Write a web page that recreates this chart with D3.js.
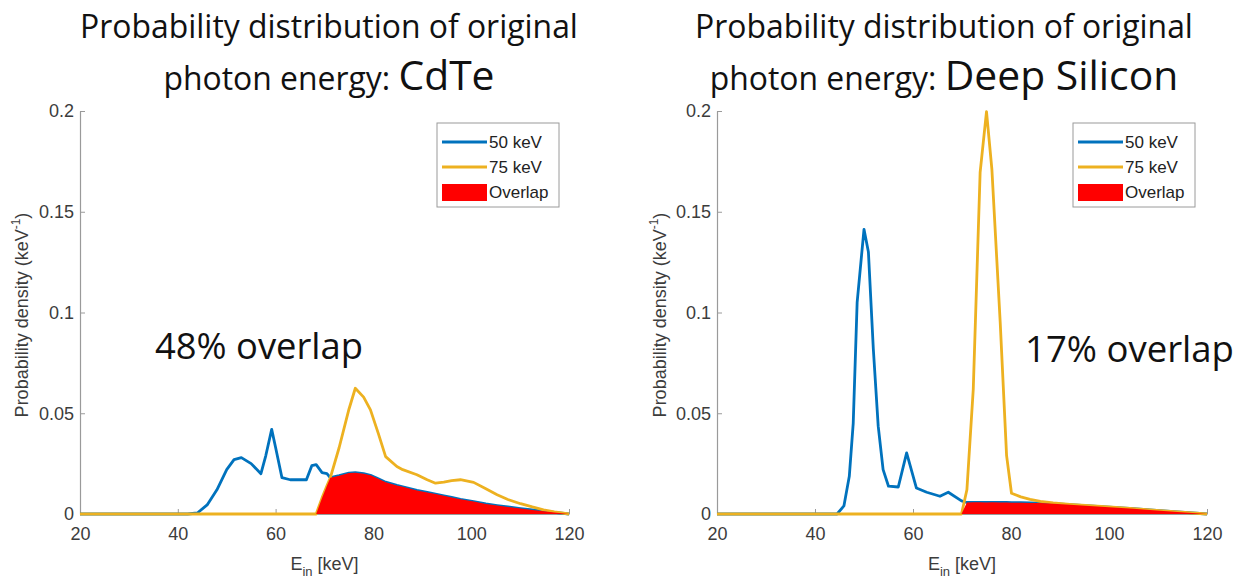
<!DOCTYPE html>
<html>
<head>
<meta charset="utf-8">
<script src="https://cdn.jsdelivr.net/npm/d3@7"></script>
<style>
body { margin: 0; background: #fff; }
svg { display: block; }
</style>
</head>
<body>
<div id="chart"></div>
<script>
// ---- data ----
const xTicks = [20, 40, 60, 80, 100, 120];
const yTicks = [0, 0.05, 0.1, 0.15, 0.2];
const legendLabels = ["50 keV", "75 keV", "Overlap"];

// CdTe panel, shared energy grid (keV)
const cdteEnergy = [20, 42, 44, 46, 48, 50, 51.5, 53, 55, 57, 58, 59.2, 60, 61.3, 63, 66.3, 67.4, 68.3, 69.5, 70.5,
    71.2, 73, 75, 76.3, 78, 79.4, 81, 82.5, 84.8, 86, 88.9, 91, 92.7, 94.4, 96, 97.8, 100.5, 103, 105.3, 107.5,
    110.1, 112.5, 114.8, 117, 120];
const cdte50 = [0, 0, 0.0005, 0.0045, 0.012, 0.022, 0.027, 0.028, 0.025, 0.020, 0.029, 0.042, 0.033, 0.018, 0.017, 0.017, 0.024, 0.0245, 0.0205, 0.020,
    0.018, 0.019, 0.0203, 0.0205, 0.020, 0.0192, 0.0175, 0.0158, 0.0142, 0.0135, 0.0117, 0.0107, 0.0099, 0.009, 0.0082, 0.0073, 0.0062, 0.005, 0.0042, 0.0035,
    0.0027, 0.002, 0.0014, 0.0008, 0];
const cdte75 = [0, 0, 0, 0, 0, 0, 0, 0, 0, 0, 0, 0, 0, 0, 0, 0, 0, 0, 0.008, 0.014,
    0.018, 0.033, 0.052, 0.0624, 0.058, 0.0517, 0.040, 0.0285, 0.0236, 0.022, 0.0195, 0.017, 0.0153, 0.0158, 0.0166, 0.017, 0.0157, 0.0125, 0.0096, 0.0072,
    0.0051, 0.0035, 0.0021, 0.001, 0];

// Deep Silicon panel
const siEnergy = [20, 44.5, 45.9, 47, 47.8, 48.6, 50, 50.9, 51.9, 52.9, 53.9, 55, 57, 58.7, 60.7, 62.8, 65.5, 67.2, 69.9, 71,
    72.3, 73.7, 75, 76.1, 77.8, 79.1, 80.1, 82, 83.9, 86, 88.6, 92, 96, 100, 105, 109, 114, 120];
const si50 = [0, 0, 0.004, 0.0187, 0.045, 0.105, 0.1413, 0.130, 0.082, 0.0436, 0.022, 0.0138, 0.0134, 0.0303, 0.0129, 0.0108, 0.0088, 0.0108, 0.0065, 0.0057,
    0.0058, 0.0058, 0.0057, 0.0058, 0.0057, 0.0057, 0.0056, 0.0056, 0.0055, 0.0054, 0.0051, 0.0046, 0.004, 0.0034, 0.0026, 0.0019, 0.0011, 0];
const si75 = [0, 0, 0, 0, 0, 0, 0, 0, 0, 0, 0, 0, 0, 0, 0, 0, 0, 0, 0, 0.012,
    0.062, 0.1695, 0.1997, 0.171, 0.095, 0.029, 0.0103, 0.0085, 0.0073, 0.0063, 0.0055, 0.0048, 0.0041, 0.0035, 0.0026, 0.0019, 0.001, 0];

const blue = "#0072BD", orange = "#EDB120", red = "#FF0000";
const axisGray = "#9a9a9a", tickText = "#3c3c3c";

let svg = d3.select("#chart").append("svg")
    .attr("width", 1236)
    .attr("height", 579);

// scale a text's font-size so it is the given width
function fitWidth(sel, width) {
    let fs = parseFloat(sel.attr("font-size"));
    let w = sel.node().getComputedTextLength();
    sel.attr("font-size", fs * width / w);
    return fs * width / w;
}

function drawPanel(p) {
    let x = d3.scaleLinear().domain([20, 120]).range([p.left, p.right]);
    let y = d3.scaleLinear().domain([0, 0.2]).range([514, 111]);
    let g = svg.append("g");

    //title line 1
    let t1 = g.append("text")
        .attr("x", p.titleX)
        .attr("y", 38)
        .attr("text-anchor", "middle")
        .attr("font-family", "Open Sans")
        .attr("font-size", 30)
        .attr("fill", "#111")
        .text("Probability distribution of original");
    let fs = fitWidth(t1, p.titleW);

    //title line 2
    let t2 = g.append("text")
        .attr("x", p.titleX)
        .attr("y", 90)
        .attr("text-anchor", "middle")
        .attr("font-family", "Open Sans")
        .attr("fill", "#111");
    t2.append("tspan").attr("font-size", fs).text("photon energy: ");
    t2.append("tspan").attr("font-size", fs * 1.28).text(p.material);

    // axes
    let xAxis = g.append("g")
        .attr("transform", "translate(0,514)")
        .call(d3.axisBottom(x).tickValues(xTicks).tickSizeInner(-5).tickSizeOuter(0).tickPadding(13));
    let yAxis = g.append("g")
        .attr("transform", "translate(" + p.left + ",0)")
        .call(d3.axisLeft(y).tickValues(yTicks).tickSizeInner(-5).tickSizeOuter(0).tickPadding(6)
            .tickFormat(d3.format("~g")));
    [xAxis, yAxis].forEach(function (a) {
        a.select(".domain").attr("stroke", axisGray).attr("stroke-width", 1.2);
        a.selectAll(".tick line").attr("stroke", axisGray);
        a.selectAll(".tick text")
            .attr("fill", tickText)
            .attr("font-family", "Liberation Sans, Arial, sans-serif")
            .attr("font-size", 18);
    });

    // axis labels
    let yl = g.append("text")
        .attr("transform", "translate(" + p.yLabelX + ",315) rotate(-90)")
        .attr("text-anchor", "middle")
        .attr("font-family", "Liberation Sans, Arial, sans-serif")
        .attr("font-size", 18)
        .attr("fill", tickText);
    yl.append("tspan").text("Probability density (keV");
    yl.append("tspan").attr("font-size", 12).attr("dy", -8).text("-1");
    yl.append("tspan").attr("dy", 8).text(")");

    let xl = g.append("text")
        .attr("x", (p.left + p.right) / 2)
        .attr("y", 570)
        .attr("text-anchor", "middle")
        .attr("font-family", "Liberation Sans, Arial, sans-serif")
        .attr("font-size", 18)
        .attr("fill", tickText);
    xl.append("tspan").text("E");
    xl.append("tspan").attr("font-size", 13).attr("dy", 6).text("in");
    xl.append("tspan").attr("dy", -6).text(" [keV]");

    // curves
    let pts50 = p.energy.map(function (e, i) { return [e, p.v50[i]]; });
    let pts75 = p.energy.map(function (e, i) { return [e, p.v75[i]]; });
    let line = d3.line()
        .x(function (d) { return x(d[0]); })
        .y(function (d) { return y(d[1]); });

    g.append("path").datum(pts50)
        .attr("d", line)
        .attr("fill", "none")
        .attr("stroke", blue)
        .attr("stroke-width", 2.8)
        .attr("stroke-linejoin", "round");
    g.append("path").datum(pts75)
        .attr("d", line)
        .attr("fill", "none")
        .attr("stroke", orange)
        .attr("stroke-width", 2.8)
        .attr("stroke-linejoin", "round");

    // overlap = smaller of the two densities
    let overlap = p.energy.map(function (e, i) { return [e, Math.min(p.v50[i], p.v75[i])]; });
    let first = overlap.findIndex(function (d) { return d[1] > 0; });
    overlap = overlap.slice(Math.max(first - 1, 0));
    g.append("path").datum(overlap)
        .attr("d", d3.area()
            .x(function (d) { return x(d[0]); })
            .y0(y(0))
            .y1(function (d) { return y(d[1]); }))
        .attr("fill", red);

    // overlap text
    let ot = g.append("text")
        .attr("x", p.overlapX)
        .attr("y", p.overlapY)
        .attr("font-family", "Open Sans")
        .attr("font-size", 40)
        .attr("fill", "#111")
        .text(p.overlapText);
    fitWidth(ot, p.overlapW);

    // legend
    let lg = g.append("g").attr("transform", "translate(" + p.legendX + ",123)");
    lg.append("rect")
        .attr("width", 122)
        .attr("height", 84)
        .attr("fill", "#fff")
        .attr("stroke", axisGray);
    let colors = [blue, orange, red];
    legendLabels.forEach(function (lab, i) {
        let cy = 19 + i * 25;
        if (i < 2) {
            lg.append("line")
                .attr("x1", 5).attr("x2", 50)
                .attr("y1", cy).attr("y2", cy)
                .attr("stroke", colors[i])
                .attr("stroke-width", 2.8);
        } else {
            lg.append("rect")
                .attr("x", 5).attr("y", cy - 8)
                .attr("width", 45).attr("height", 17)
                .attr("fill", red);
        }
        lg.append("text")
            .attr("x", 52)
            .attr("y", cy + 6)
            .attr("font-family", "Liberation Sans, Arial, sans-serif")
            .attr("font-size", 17)
            .attr("fill", "#222")
            .text(lab);
    });
}

drawPanel({
    left: 80, right: 569, titleX: 329, titleW: 498, material: "CdTe",
    energy: cdteEnergy, v50: cdte50, v75: cdte75,
    yLabelX: 28, overlapText: "48% overlap", overlapX: 155, overlapY: 359, overlapW: 208,
    legendX: 437
});
drawPanel({
    left: 717, right: 1207, titleX: 944, titleW: 498, material: "Deep Silicon",
    energy: siEnergy, v50: si50, v75: si75,
    yLabelX: 666, overlapText: "17% overlap", overlapX: 1025, overlapY: 362, overlapW: 209,
    legendX: 1073
});
</script>
</body>
</html>
